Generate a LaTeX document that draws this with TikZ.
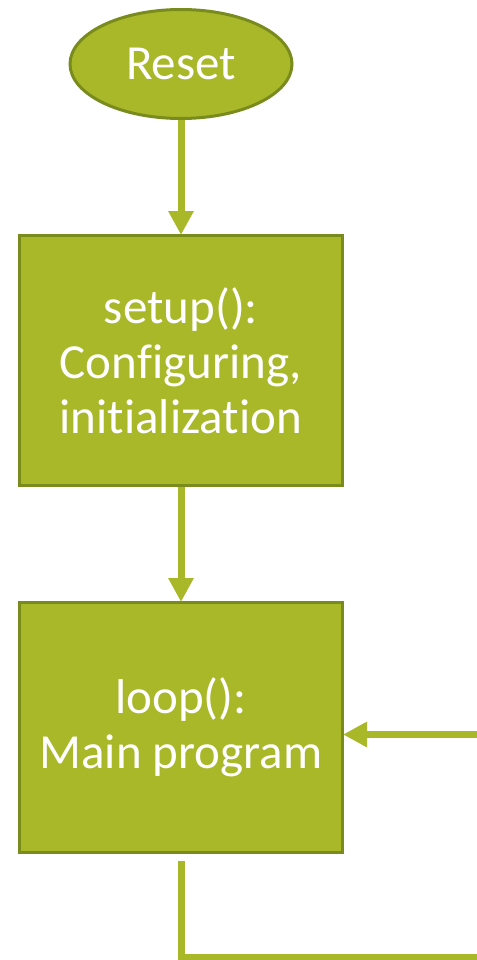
\documentclass[tikz,border=0pt]{standalone}
\usepackage{fontspec}
\setmainfont{Carlito}[Ligatures=NoCommon]
\usepackage{tikz}
\usetikzlibrary{arrows.meta,shapes,positioning}
\usepackage{xcolor}
\definecolor{rsgreen}{RGB}{169,184,41}
\definecolor{rsdark}{RGB}{122,139,30}
\tikzstyle{start} = [ellipse, minimum width=222pt, minimum height=109pt, inner sep=0pt, draw=rsdark, fill=rsgreen, line width=3pt, text=white, font=\fontsize{49}{55}\selectfont]
\tikzstyle{process} = [rectangle, minimum width=323pt, minimum height=250pt, inner sep=0pt, align=center, draw=rsdark, fill=rsgreen, line width=3pt, text=white, font=\fontsize{49}{55}\selectfont]
\tikzstyle{arrow} = [line width=7pt, color=rsgreen, -{Triangle[width=24pt,length=24pt]}, shorten >=-1pt]

\begin{document}
\begin{tikzpicture}[x=1pt, y=1pt, node distance=114pt]
\useasboundingbox (0,0) rectangle (476,-960);
% Reset
\node (reset) [start] at (181,-64) {Reset};

% setup
\node (setup) [process, below=of reset] {setup():\\Configuring,\\initialization};

% loop
\node (loop) [process, below=of setup] {loop():\\Main program};

% Arrows
\coordinate (back) at (490,-957);
\draw[arrow] (reset) -- (setup);
\draw[arrow] (setup) -- (loop);
\draw[arrow] ([yshift=-7pt]loop.south) |- (back) |- ([yshift=-7pt]loop.east);
\end{tikzpicture}
\end{document}
